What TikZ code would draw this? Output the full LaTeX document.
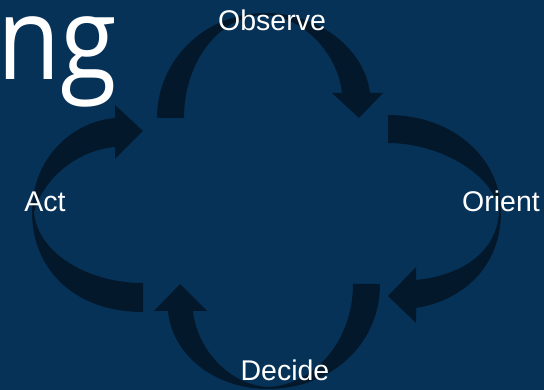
\documentclass[tikz,border=0pt]{standalone}
\usepackage{fontspec}
\setmainfont{Liberation Sans}
\newfontfamily\titlefont{Open Sans}
\definecolor{bgblue}{RGB}{7,50,88}
\definecolor{arrowdark}{RGB}{3,25,43}
\begin{document}
\begin{tikzpicture}[x=1pt,y=-1pt,
  arrowshape/.style={fill=arrowdark},
  lbl/.style={text=white,font=\fontsize{28.5}{30}\selectfont,inner sep=0pt,anchor=base}]
\fill[bgblue] (0,0) rectangle (544,390);
\useasboundingbox (0,0) rectangle (544,390);
% title fragment
\node[text=white,font=\titlefont\fontsize{103}{103}\selectfont,inner sep=0pt,anchor=base west] (title) at (-3,80) {\scalebox{1}[1.12]{ng}};
% Observe arrow
\fill[arrowshape] (157,118) .. controls (157,60) and (205,13) .. (265,13)
  .. controls (320,13) and (365,50) .. (370,93) -- (383,93) -- (359,118) -- (332,93) -- (342,93)
  .. controls (338,55) and (305,17) .. (265,15)
  .. controls (220,15) and (184,61) .. (184,118) -- cycle;
% Orient arrow
\fill[arrowshape] (388,115) .. controls (455,115) and (501,160) .. (501,212)
  .. controls (501,265) and (465,300) .. (416,308) -- (416,323) -- (388,296) -- (416,267) -- (416,280)
  .. controls (465,275) and (497,250) .. (499,212)
  .. controls (495,175) and (440,143) .. (388,143) -- cycle;
% Decide arrow
\fill[arrowshape] (380,284) .. controls (380,345) and (330,389) .. (268,389)
  .. controls (215,389) and (172,355) .. (168,311) -- (154,311) -- (180,284) -- (207,311) -- (193,311)
  .. controls (197,350) and (230,385) .. (268,387)
  .. controls (315,385) and (353,340) .. (353,284) -- cycle;
% Act arrow
\fill[arrowshape] (143,312) .. controls (75,312) and (32,270) .. (32,212)
  .. controls (32,160) and (70,122) .. (115,118) -- (115,105) -- (143,131) -- (115,159) -- (115,147)
  .. controls (80,150) and (45,175) .. (34,212)
  .. controls (38,255) and (90,283) .. (143,283) -- cycle;
% labels
\node[lbl] (observe) at (272,31) {Observe};
\node[lbl] (orient) at (501,212) {Orient};
\node[lbl] (decide) at (285,380) {Decide};
\node[lbl] (act) at (45,212) {Act};
\end{tikzpicture}
\end{document}
